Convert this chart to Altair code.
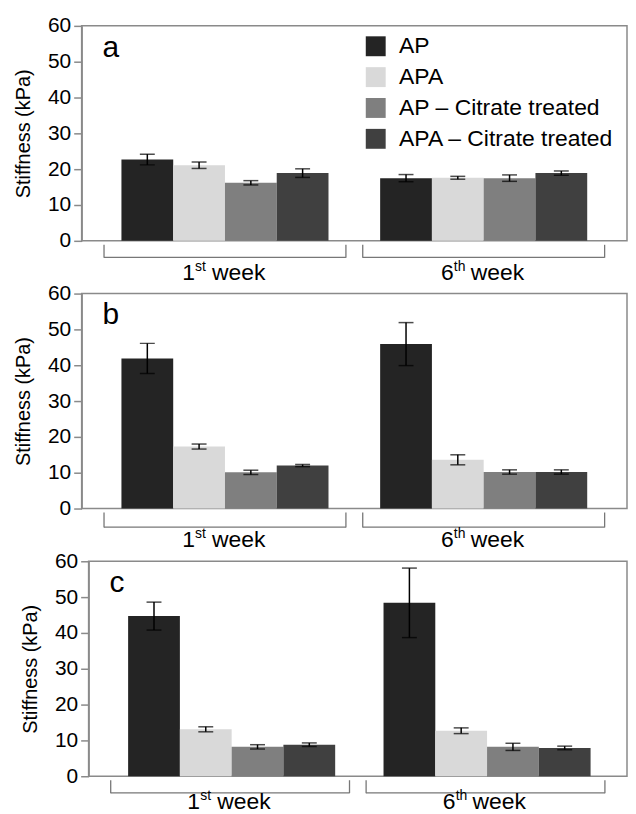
import altair as alt
import pandas as pd

groups = ["AP", "APA", "AP – Citrate treated", "APA – Citrate treated"]
weeks = ["1st week", "6th week"]
week_num = ["1", "6"]
week_sup = ["st", "th"]
colors = ["#242424", "#d9d9d9", "#7f7f7f", "#404040"]
panel_letters = ["a", "b", "c"]

# panel a
a_w1 = [22.7, 21.1, 16.2, 18.9]
a_w1_err = [1.5, 0.9, 0.6, 1.2]
a_w6 = [17.5, 17.6, 17.5, 18.9]
a_w6_err = [1.0, 0.4, 0.9, 0.6]
# panel b
b_w1 = [41.9, 17.3, 10.1, 12.0]
b_w1_err = [4.2, 0.7, 0.6, 0.3]
b_w6 = [45.9, 13.6, 10.2, 10.2]
b_w6_err = [6.0, 1.4, 0.6, 0.6]
# panel c
c_w1 = [44.7, 13.1, 8.2, 8.8]
c_w1_err = [3.9, 0.7, 0.6, 0.5]
c_w6 = [48.4, 12.7, 8.2, 7.9]
c_w6_err = [9.7, 0.8, 1.0, 0.5]

W = 548
H = 216
SHIFT_C = 7
FONT = "Liberation Sans"


def make_df(w1, e1, w6, e6):
    rows = []
    for wk, means, errs in ((weeks[0], w1, e1), (weeks[1], w6, e6)):
        for g, m, e in zip(groups, means, errs):
            rows.append({"week": wk, "group": g, "mean": m, "lo": m - e, "hi": m + e})
    return pd.DataFrame(rows)


week_df = pd.DataFrame({"week": weeks, "num": week_num, "sup": week_sup})


def panel(letter, w1, e1, w6, e6, show_legend, brk, base_y, width):
    df = make_df(w1, e1, w6, e6)
    xscale = alt.Scale(domain=weeks, paddingInner=0.065, paddingOuter=0.0865)
    x = alt.X("week:N", sort=weeks, axis=None, scale=xscale)
    xo = alt.XOffset("group:N", sort=groups,
                     scale=alt.Scale(domain=groups, paddingInner=0, paddingOuter=0.3365))
    yaxis = alt.Axis(values=[0, 10, 20, 30, 40, 50, 60], tickSize=8, tickColor="#8a8a8a",
                     tickWidth=1.5, domainColor="#8a8a8a", domainWidth=1.5,
                     labelFontSize=21, labelColor="black", labelFont=FONT, labelPadding=3,
                     labelOverlap=False, labelFlush=False,
                     title="Stiffness (kPa)", titleFontSize=20, titleFont=FONT,
                     titleFontWeight="normal", titleColor="black", titlePadding=14, grid=False)
    yscale = alt.Scale(domain=[0, 60], nice=False)
    if show_legend:
        legend = alt.Legend(orient="none", legendX=284, legendY=9, title=None,
                            symbolType="square", symbolSize=400, symbolStrokeWidth=0,
                            symbolOpacity=1, labelFontSize=23, labelFont=FONT, labelLimit=0,
                            labelColor="black", rowPadding=7, labelOffset=12)
    else:
        legend = None
    color = alt.Color("group:N", sort=groups,
                      scale=alt.Scale(domain=groups, range=colors), legend=legend)

    base = alt.Chart(df)
    bars = base.mark_bar().encode(x=x, xOffset=xo,
                                  y=alt.Y("mean:Q", scale=yscale, axis=yaxis), color=color)
    err = base.mark_rule(color="black", strokeWidth=1.5).encode(
        x=x, xOffset=xo, y=alt.Y("lo:Q", scale=yscale, axis=yaxis), y2="hi:Q")
    cap_hi = base.mark_tick(color="black", size=15, thickness=1.5).encode(
        x=x, xOffset=xo, y=alt.Y("hi:Q", scale=yscale, axis=yaxis))
    cap_lo = base.mark_tick(color="black", size=15, thickness=1.5).encode(
        x=x, xOffset=xo, y=alt.Y("lo:Q", scale=yscale, axis=yaxis))

    wb = alt.Chart(week_df)
    br_h = wb.mark_rect(color="#777777").encode(
        x=x, y=alt.value(H + brk), y2=alt.value(H + brk + 1.3))
    br_l = wb.mark_rule(color="#777777", strokeWidth=1.3).encode(
        x=alt.X("week:N", sort=weeks, axis=None, scale=xscale, bandPosition=0),
        y=alt.value(H + 4), y2=alt.value(H + brk + 1))
    br_r = wb.mark_rule(color="#777777", strokeWidth=1.3).encode(
        x=alt.X("week:N", sort=weeks, axis=None, scale=xscale, bandPosition=1),
        y=alt.value(H + 4), y2=alt.value(H + brk + 1))
    t_num = wb.mark_text(align="left", baseline="alphabetic", fontSize=23, font=FONT,
                         color="black", dx=-43).encode(x=x, y=alt.value(H + base_y), text="num:N")
    t_sup = wb.mark_text(align="left", baseline="alphabetic", fontSize=14, font=FONT,
                         color="black", dx=-30).encode(x=x, y=alt.value(H + base_y - 9), text="sup:N")
    t_wk = wb.mark_text(align="left", baseline="alphabetic", fontSize=23, font=FONT,
                        color="black", dx=-13, text="week").encode(x=x, y=alt.value(H + base_y))

    lab = alt.Chart(pd.DataFrame({"letter": [letter]})).mark_text(
        align="left", baseline="alphabetic", fontSize=30, font=FONT, color="black"
    ).encode(x=alt.value(21), y=alt.value(31), text="letter:N")

    return alt.layer(bars, err, cap_hi, cap_lo, br_h, br_l, br_r, t_num, t_sup, t_wk, lab).properties(
        width=width, height=H)


pa = panel(panel_letters[0], a_w1, a_w1_err, a_w6, a_w6_err, True, 16, 39, W)
pb = panel(panel_letters[1], b_w1, b_w1_err, b_w6, b_w6_err, False, 18, 39, W)
pc = panel(panel_letters[2], c_w1, c_w1_err, c_w6, c_w6_err, False, 16, 33, W - SHIFT_C)

# invisible spacer so that the third panel sits a little further right, as in the figure
spacer = alt.Chart(pd.DataFrame({"v": [0]})).mark_point(opacity=0).encode(
    x=alt.value(0), y=alt.value(0)
).properties(width=SHIFT_C, height=H, view=alt.ViewBackground(strokeOpacity=0, strokeWidth=0))

row_c = alt.hconcat(spacer, pc, spacing=0, bounds="flush").resolve_scale(
    color="independent", x="independent", y="independent")

chart = alt.vconcat(pa, pb, row_c, spacing=53, bounds="flush").resolve_scale(
    color="independent", x="independent", y="independent"
).resolve_legend(color="independent").properties(
    padding={"top": 4, "left": 4, "right": 0, "bottom": 0}
).configure_view(stroke="#8a8a8a", strokeWidth=1.5)

chart.save("out.html", embed_options={"renderer": "svg", "actions": False})
